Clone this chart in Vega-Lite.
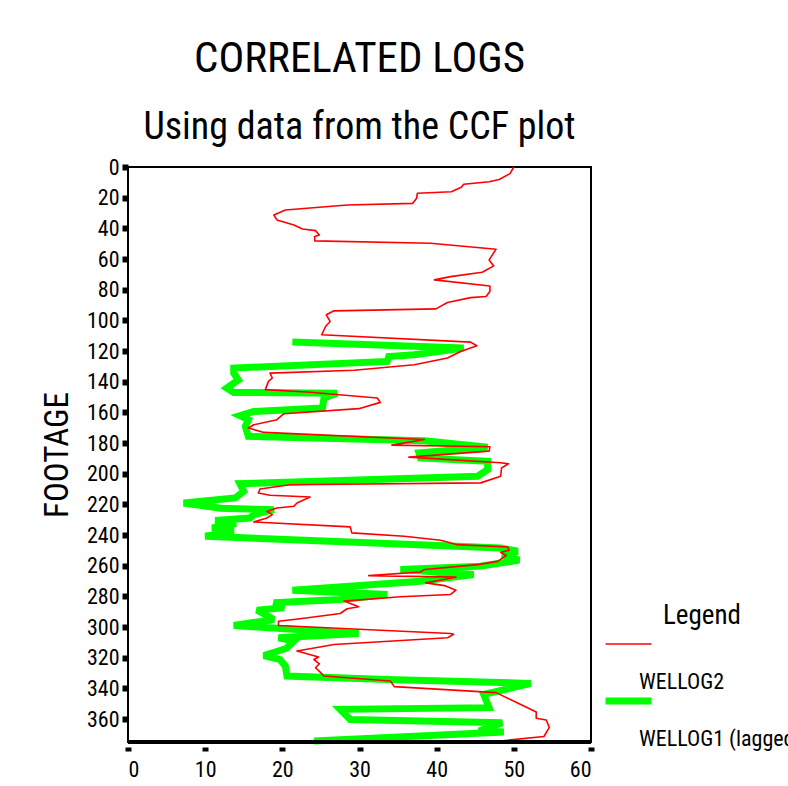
{
  "$schema": "https://vega.github.io/schema/vega-lite/v6.json",
  "autosize": {"type": "none"},
  "width": 463,
  "height": 575,
  "padding": {"left": 128, "top": 167, "right": 197, "bottom": 44},
  "background": "white",
  "config": {
    "view": {"stroke": "black", "strokeWidth": 2},
    "font": "Roboto Condensed"
  },
  "title": {
    "text": "CORRELATED LOGS",
    "subtitle": "Using data from the CCF plot",
    "font": "Roboto Condensed",
    "subtitleFont": "Roboto Condensed",
    "fontSize": 43,
    "subtitleFontSize": 38,
    "fontWeight": "normal",
    "subtitleFontWeight": "normal",
    "color": "black",
    "subtitleColor": "black",
    "subtitlePadding": 28,
    "anchor": "middle",
    "offset": 9
  },
  "datasets": {
    "logs": [
      {"series": "WELLOG2", "depth": 0, "value": 50.0},
      {"series": "WELLOG2", "depth": 4.3, "value": 49.5},
      {"series": "WELLOG2", "depth": 8.2, "value": 48.1},
      {"series": "WELLOG2", "depth": 9.6, "value": 46.8},
      {"series": "WELLOG2", "depth": 11.3, "value": 43.5},
      {"series": "WELLOG2", "depth": 13.2, "value": 43.2},
      {"series": "WELLOG2", "depth": 16.1, "value": 41.9},
      {"series": "WELLOG2", "depth": 17.1, "value": 37.5},
      {"series": "WELLOG2", "depth": 20.4, "value": 37.4},
      {"series": "WELLOG2", "depth": 23.7, "value": 36.9},
      {"series": "WELLOG2", "depth": 24.8, "value": 28.4},
      {"series": "WELLOG2", "depth": 28, "value": 20.4},
      {"series": "WELLOG2", "depth": 31.3, "value": 18.9},
      {"series": "WELLOG2", "depth": 34.5, "value": 19.3},
      {"series": "WELLOG2", "depth": 37.8, "value": 21.5},
      {"series": "WELLOG2", "depth": 40.4, "value": 22.6},
      {"series": "WELLOG2", "depth": 41.5, "value": 24.3},
      {"series": "WELLOG2", "depth": 44.3, "value": 24.8},
      {"series": "WELLOG2", "depth": 45.4, "value": 24.2},
      {"series": "WELLOG2", "depth": 48.2, "value": 24.2},
      {"series": "WELLOG2", "depth": 49.7, "value": 39.2},
      {"series": "WELLOG2", "depth": 53.6, "value": 47.7},
      {"series": "WELLOG2", "depth": 60.6, "value": 46.8},
      {"series": "WELLOG2", "depth": 64.5, "value": 47.4},
      {"series": "WELLOG2", "depth": 68.6, "value": 45.9},
      {"series": "WELLOG2", "depth": 71.5, "value": 41.8},
      {"series": "WELLOG2", "depth": 73.6, "value": 39.7},
      {"series": "WELLOG2", "depth": 77.6, "value": 46.9},
      {"series": "WELLOG2", "depth": 81.2, "value": 46.9},
      {"series": "WELLOG2", "depth": 84.5, "value": 46.4},
      {"series": "WELLOG2", "depth": 85.2, "value": 44.4},
      {"series": "WELLOG2", "depth": 88.4, "value": 41.4},
      {"series": "WELLOG2", "depth": 92.5, "value": 39.9},
      {"series": "WELLOG2", "depth": 93.8, "value": 26.7},
      {"series": "WELLOG2", "depth": 96.4, "value": 25.7},
      {"series": "WELLOG2", "depth": 100.8, "value": 26.2},
      {"series": "WELLOG2", "depth": 104, "value": 25.6},
      {"series": "WELLOG2", "depth": 109.4, "value": 25.1},
      {"series": "WELLOG2", "depth": 114.2, "value": 44.4},
      {"series": "WELLOG2", "depth": 116.6, "value": 45.2},
      {"series": "WELLOG2", "depth": 120.3, "value": 43.1},
      {"series": "WELLOG2", "depth": 124.6, "value": 41.4},
      {"series": "WELLOG2", "depth": 129, "value": 37.1},
      {"series": "WELLOG2", "depth": 132.6, "value": 29.3},
      {"series": "WELLOG2", "depth": 134.4, "value": 18.4},
      {"series": "WELLOG2", "depth": 137.6, "value": 18.7},
      {"series": "WELLOG2", "depth": 139.8, "value": 18.2},
      {"series": "WELLOG2", "depth": 145.2, "value": 17.8},
      {"series": "WELLOG2", "depth": 146.7, "value": 23.2},
      {"series": "WELLOG2", "depth": 150.7, "value": 32.3},
      {"series": "WELLOG2", "depth": 153.5, "value": 32.7},
      {"series": "WELLOG2", "depth": 157.6, "value": 29.9},
      {"series": "WELLOG2", "depth": 160.9, "value": 20.2},
      {"series": "WELLOG2", "depth": 164.8, "value": 19.3},
      {"series": "WELLOG2", "depth": 168.1, "value": 16.3},
      {"series": "WELLOG2", "depth": 170.2, "value": 15.6},
      {"series": "WELLOG2", "depth": 173.1, "value": 17.6},
      {"series": "WELLOG2", "depth": 177.7, "value": 38.4},
      {"series": "WELLOG2", "depth": 181.4, "value": 34.2},
      {"series": "WELLOG2", "depth": 182.4, "value": 46.9},
      {"series": "WELLOG2", "depth": 185.3, "value": 46.8},
      {"series": "WELLOG2", "depth": 189.2, "value": 36.4},
      {"series": "WELLOG2", "depth": 192.9, "value": 48.3},
      {"series": "WELLOG2", "depth": 193.6, "value": 49.3},
      {"series": "WELLOG2", "depth": 196.3, "value": 48.4},
      {"series": "WELLOG2", "depth": 201.7, "value": 48.3},
      {"series": "WELLOG2", "depth": 206, "value": 45.7},
      {"series": "WELLOG2", "depth": 207.2, "value": 21.0},
      {"series": "WELLOG2", "depth": 210, "value": 17.1},
      {"series": "WELLOG2", "depth": 212.6, "value": 16.9},
      {"series": "WELLOG2", "depth": 214.1, "value": 18.4},
      {"series": "WELLOG2", "depth": 215.2, "value": 23.6},
      {"series": "WELLOG2", "depth": 219.1, "value": 21.9},
      {"series": "WELLOG2", "depth": 221.3, "value": 21.5},
      {"series": "WELLOG2", "depth": 222.4, "value": 19.3},
      {"series": "WELLOG2", "depth": 224.6, "value": 18.0},
      {"series": "WELLOG2", "depth": 226.7, "value": 18.7},
      {"series": "WELLOG2", "depth": 228.9, "value": 18.0},
      {"series": "WELLOG2", "depth": 231.5, "value": 16.3},
      {"series": "WELLOG2", "depth": 234.7, "value": 28.8},
      {"series": "WELLOG2", "depth": 238.6, "value": 29.0},
      {"series": "WELLOG2", "depth": 240.8, "value": 35.8},
      {"series": "WELLOG2", "depth": 243.4, "value": 40.5},
      {"series": "WELLOG2", "depth": 246.3, "value": 42.7},
      {"series": "WELLOG2", "depth": 247.8, "value": 49.2},
      {"series": "WELLOG2", "depth": 250, "value": 49.4},
      {"series": "WELLOG2", "depth": 251.3, "value": 48.3},
      {"series": "WELLOG2", "depth": 253.4, "value": 49.0},
      {"series": "WELLOG2", "depth": 257.2, "value": 47.9},
      {"series": "WELLOG2", "depth": 259.3, "value": 45.3},
      {"series": "WELLOG2", "depth": 262.5, "value": 38.4},
      {"series": "WELLOG2", "depth": 264.1, "value": 37.9},
      {"series": "WELLOG2", "depth": 266.5, "value": 31.2},
      {"series": "WELLOG2", "depth": 267.5, "value": 42.5},
      {"series": "WELLOG2", "depth": 271.2, "value": 38.6},
      {"series": "WELLOG2", "depth": 273, "value": 41.0},
      {"series": "WELLOG2", "depth": 276, "value": 42.5},
      {"series": "WELLOG2", "depth": 278.8, "value": 41.8},
      {"series": "WELLOG2", "depth": 280.3, "value": 35.3},
      {"series": "WELLOG2", "depth": 283.1, "value": 28.0},
      {"series": "WELLOG2", "depth": 286.8, "value": 29.9},
      {"series": "WELLOG2", "depth": 288.1, "value": 28.4},
      {"series": "WELLOG2", "depth": 291.2, "value": 27.5},
      {"series": "WELLOG2", "depth": 294.6, "value": 22.3},
      {"series": "WELLOG2", "depth": 296.2, "value": 19.5},
      {"series": "WELLOG2", "depth": 299, "value": 19.5},
      {"series": "WELLOG2", "depth": 304.2, "value": 41.8},
      {"series": "WELLOG2", "depth": 304.8, "value": 42.2},
      {"series": "WELLOG2", "depth": 307, "value": 41.4},
      {"series": "WELLOG2", "depth": 311.4, "value": 26.7},
      {"series": "WELLOG2", "depth": 315.7, "value": 21.9},
      {"series": "WELLOG2", "depth": 319.6, "value": 24.7},
      {"series": "WELLOG2", "depth": 321.2, "value": 24.1},
      {"series": "WELLOG2", "depth": 324, "value": 24.8},
      {"series": "WELLOG2", "depth": 326.6, "value": 24.3},
      {"series": "WELLOG2", "depth": 329.4, "value": 24.9},
      {"series": "WELLOG2", "depth": 332, "value": 25.4},
      {"series": "WELLOG2", "depth": 335.2, "value": 34.0},
      {"series": "WELLOG2", "depth": 338.9, "value": 34.5},
      {"series": "WELLOG2", "depth": 342.8, "value": 47.7},
      {"series": "WELLOG2", "depth": 351.5, "value": 51.3},
      {"series": "WELLOG2", "depth": 355.4, "value": 52.9},
      {"series": "WELLOG2", "depth": 359.5, "value": 52.9},
      {"series": "WELLOG2", "depth": 360.6, "value": 54.2},
      {"series": "WELLOG2", "depth": 365.5, "value": 54.6},
      {"series": "WELLOG2", "depth": 371.4, "value": 53.9},
      {"series": "WELLOG2", "depth": 374.3, "value": 48.3},
      {"series": "WELLOG1 (lagged)", "depth": 114.2, "value": 21.3},
      {"series": "WELLOG1 (lagged)", "depth": 118.1, "value": 43.5},
      {"series": "WELLOG1 (lagged)", "depth": 122.5, "value": 37.1},
      {"series": "WELLOG1 (lagged)", "depth": 123.6, "value": 33.8},
      {"series": "WELLOG1 (lagged)", "depth": 126.8, "value": 33.6},
      {"series": "WELLOG1 (lagged)", "depth": 131.1, "value": 13.7},
      {"series": "WELLOG1 (lagged)", "depth": 134.4, "value": 13.7},
      {"series": "WELLOG1 (lagged)", "depth": 138.8, "value": 14.3},
      {"series": "WELLOG1 (lagged)", "depth": 144.2, "value": 12.8},
      {"series": "WELLOG1 (lagged)", "depth": 147, "value": 13.7},
      {"series": "WELLOG1 (lagged)", "depth": 147.5, "value": 27.1},
      {"series": "WELLOG1 (lagged)", "depth": 150.7, "value": 25.4},
      {"series": "WELLOG1 (lagged)", "depth": 157.2, "value": 25.2},
      {"series": "WELLOG1 (lagged)", "depth": 159.4, "value": 16.3},
      {"series": "WELLOG1 (lagged)", "depth": 162.2, "value": 14.5},
      {"series": "WELLOG1 (lagged)", "depth": 164.8, "value": 15.6},
      {"series": "WELLOG1 (lagged)", "depth": 169.2, "value": 15.2},
      {"series": "WELLOG1 (lagged)", "depth": 175.6, "value": 15.6},
      {"series": "WELLOG1 (lagged)", "depth": 178.5, "value": 38.4},
      {"series": "WELLOG1 (lagged)", "depth": 182.8, "value": 46.6},
      {"series": "WELLOG1 (lagged)", "depth": 186.5, "value": 37.7},
      {"series": "WELLOG1 (lagged)", "depth": 189.7, "value": 37.9},
      {"series": "WELLOG1 (lagged)", "depth": 191.9, "value": 46.6},
      {"series": "WELLOG1 (lagged)", "depth": 197.4, "value": 46.6},
      {"series": "WELLOG1 (lagged)", "depth": 201.7, "value": 45.3},
      {"series": "WELLOG1 (lagged)", "depth": 206.5, "value": 14.5},
      {"series": "WELLOG1 (lagged)", "depth": 211.5, "value": 15.0},
      {"series": "WELLOG1 (lagged)", "depth": 215.8, "value": 13.9},
      {"series": "WELLOG1 (lagged)", "depth": 219.1, "value": 7.2},
      {"series": "WELLOG1 (lagged)", "depth": 222.5, "value": 12.0},
      {"series": "WELLOG1 (lagged)", "depth": 223.5, "value": 18.9},
      {"series": "WELLOG1 (lagged)", "depth": 226.7, "value": 16.3},
      {"series": "WELLOG1 (lagged)", "depth": 228.9, "value": 15.8},
      {"series": "WELLOG1 (lagged)", "depth": 230.6, "value": 11.3},
      {"series": "WELLOG1 (lagged)", "depth": 232.5, "value": 14.0},
      {"series": "WELLOG1 (lagged)", "depth": 235.4, "value": 10.9},
      {"series": "WELLOG1 (lagged)", "depth": 237.5, "value": 13.7},
      {"series": "WELLOG1 (lagged)", "depth": 240.8, "value": 10.0},
      {"series": "WELLOG1 (lagged)", "depth": 248.4, "value": 48.3},
      {"series": "WELLOG1 (lagged)", "depth": 250.6, "value": 50.5},
      {"series": "WELLOG1 (lagged)", "depth": 253, "value": 48.5},
      {"series": "WELLOG1 (lagged)", "depth": 256.4, "value": 50.7},
      {"series": "WELLOG1 (lagged)", "depth": 260.3, "value": 45.7},
      {"series": "WELLOG1 (lagged)", "depth": 262.5, "value": 35.3},
      {"series": "WELLOG1 (lagged)", "depth": 265.8, "value": 44.8},
      {"series": "WELLOG1 (lagged)", "depth": 270.1, "value": 37.9},
      {"series": "WELLOG1 (lagged)", "depth": 276, "value": 21.3},
      {"series": "WELLOG1 (lagged)", "depth": 278.8, "value": 33.6},
      {"series": "WELLOG1 (lagged)", "depth": 282, "value": 27.5},
      {"series": "WELLOG1 (lagged)", "depth": 284.2, "value": 18.9},
      {"series": "WELLOG1 (lagged)", "depth": 287.5, "value": 20.2},
      {"series": "WELLOG1 (lagged)", "depth": 289, "value": 16.7},
      {"series": "WELLOG1 (lagged)", "depth": 292.5, "value": 18.0},
      {"series": "WELLOG1 (lagged)", "depth": 295.1, "value": 18.9},
      {"series": "WELLOG1 (lagged)", "depth": 299, "value": 13.7},
      {"series": "WELLOG1 (lagged)", "depth": 304.2, "value": 29.9},
      {"series": "WELLOG1 (lagged)", "depth": 307, "value": 19.5},
      {"series": "WELLOG1 (lagged)", "depth": 309.2, "value": 21.5},
      {"series": "WELLOG1 (lagged)", "depth": 314, "value": 20.5},
      {"series": "WELLOG1 (lagged)", "depth": 318.6, "value": 17.6},
      {"series": "WELLOG1 (lagged)", "depth": 321.2, "value": 19.7},
      {"series": "WELLOG1 (lagged)", "depth": 325.6, "value": 20.4},
      {"series": "WELLOG1 (lagged)", "depth": 332, "value": 20.6},
      {"series": "WELLOG1 (lagged)", "depth": 334.2, "value": 33.6},
      {"series": "WELLOG1 (lagged)", "depth": 336.8, "value": 52.2},
      {"series": "WELLOG1 (lagged)", "depth": 344, "value": 46.1},
      {"series": "WELLOG1 (lagged)", "depth": 352.6, "value": 46.8},
      {"series": "WELLOG1 (lagged)", "depth": 353.7, "value": 27.5},
      {"series": "WELLOG1 (lagged)", "depth": 360.3, "value": 28.8},
      {"series": "WELLOG1 (lagged)", "depth": 362.4, "value": 48.5},
      {"series": "WELLOG1 (lagged)", "depth": 367.9, "value": 45.5},
      {"series": "WELLOG1 (lagged)", "depth": 368.5, "value": 48.7},
      {"series": "WELLOG1 (lagged)", "depth": 374.3, "value": 24.1}
    ]
  },
  "data": {"name": "logs"},
  "encoding": {
    "x": {
      "field": "value", "type": "quantitative",
      "scale": {"domain": [0, 60], "nice": false},
      "axis": {
        "title": null, "values": [0, 10, 20, 30, 40, 50, 60],
        "grid": false, "domain": false, "offset": 5,
        "tickSize": 4, "tickWidth": 6, "tickColor": "black",
        "labelFont": "Roboto Condensed", "labelFontSize": 22,
        "labelColor": "black", "labelPadding": 8
      }
    },
    "y": {
      "field": "depth", "type": "quantitative",
      "scale": {"domain": [0, 375], "reverse": true, "nice": false, "zero": false},
      "axis": {
        "title": "FOOTAGE", "titleFont": "Roboto Condensed",
        "titleFontSize": 33, "titleFontWeight": "normal", "titleColor": "black",
        "titlePadding": 12,
        "values": [0, 20, 40, 60, 80, 100, 120, 140, 160, 180, 200, 220, 240, 260, 280, 300, 320, 340, 360],
        "grid": false, "domain": false,
        "tickSize": 6, "tickWidth": 6, "tickColor": "black",
        "labelFont": "Roboto Condensed", "labelFontSize": 22,
        "labelColor": "black", "labelPadding": 3
      }
    },
    "order": {"field": "depth", "type": "quantitative"},
    "color": {
      "field": "series", "type": "nominal",
      "scale": {"domain": ["WELLOG2", "WELLOG1 (lagged)"], "range": ["#ff0000", "#00ff00"]},
      "legend": {
        "title": "Legend", "orient": "none", "legendX": 474, "legendY": 436,
        "titleFont": "Roboto Condensed", "titleFontSize": 27,
        "titleFontWeight": "normal", "titleColor": "black", "titleAnchor": "middle",
        "titlePadding": 6,
        "symbolType": "stroke", "symbolSize": 2116,
        "labelFont": "Roboto Condensed", "labelFontSize": 22, "labelColor": "black",
        "labelOffset": -16, "labelLimit": 400, "rowPadding": 0, "clipHeight": 16,
        "encode": {"labels": {"update": {"dy": {"value": 38}}}}
      }
    },
    "strokeWidth": {
      "field": "series", "type": "nominal",
      "scale": {"domain": ["WELLOG2", "WELLOG1 (lagged)"], "range": [1.6, 7]},
      "legend": null
    }
  },
  "layer": [
    {
      "transform": [{"filter": "datum.series === 'WELLOG1 (lagged)'"}],
      "mark": {"type": "line", "strokeJoin": "miter", "strokeMiterLimit": 3}
    },
    {
      "transform": [{"filter": "datum.series === 'WELLOG2'"}],
      "mark": {"type": "line", "strokeJoin": "round"}
    },
    {
      "mark": {"type": "rule", "color": "black", "strokeWidth": 3},
      "encoding": {"y": {"datum": 375}, "x": null, "color": null, "strokeWidth": null, "order": null}
    }
  ]
}
